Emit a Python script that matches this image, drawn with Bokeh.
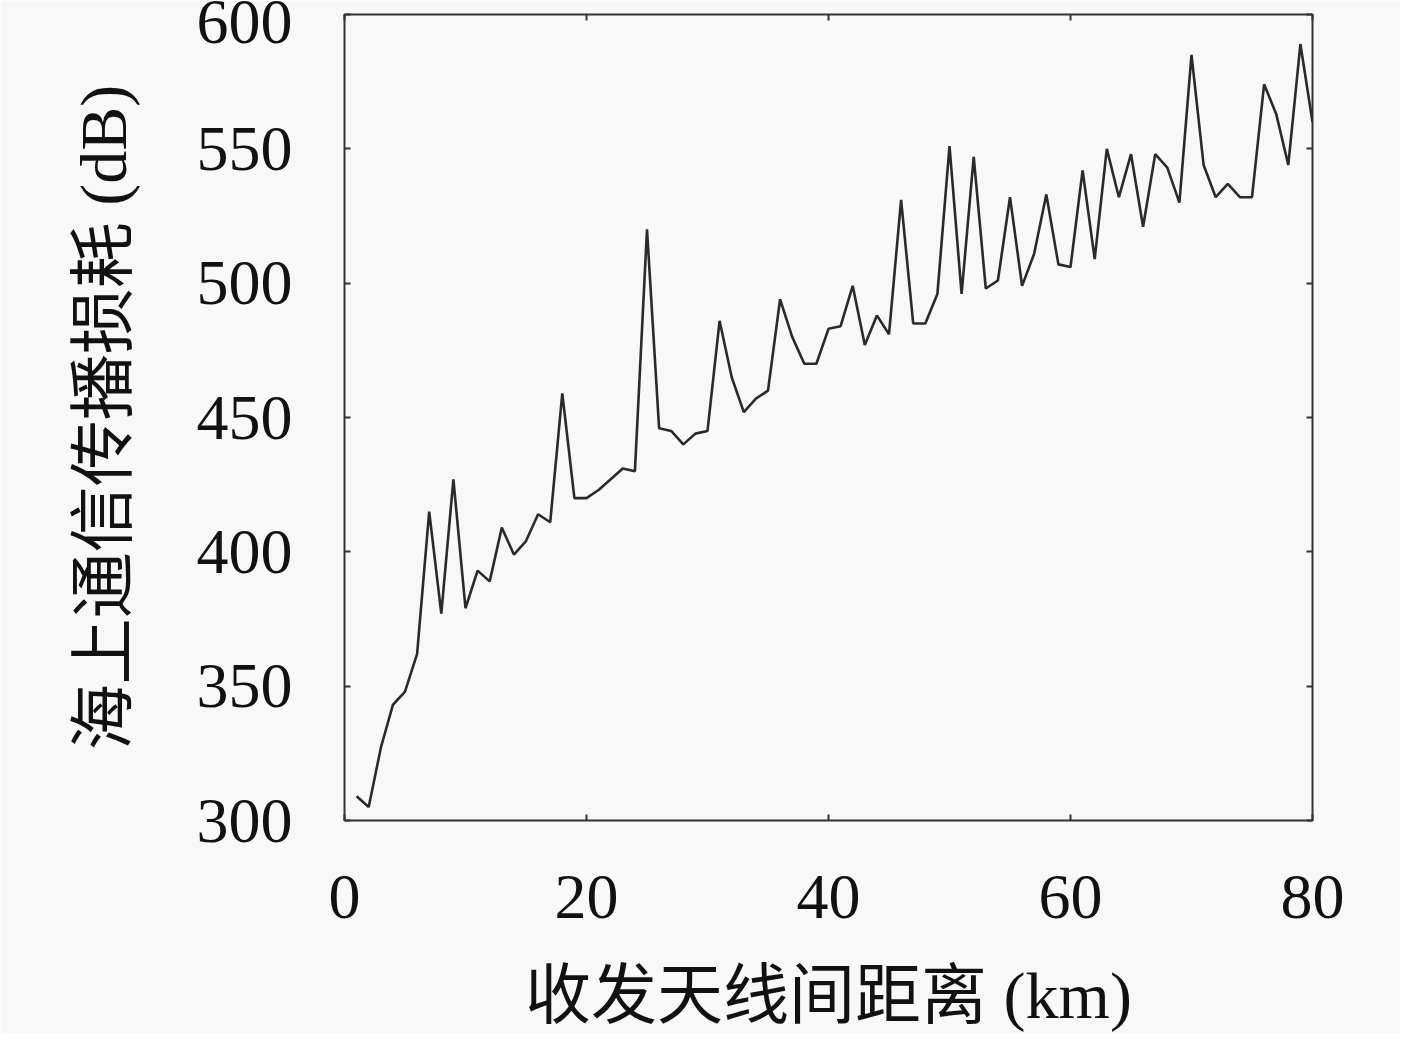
from bokeh.plotting import figure
from bokeh.models import LinearAxis, Range1d, FixedTicker
from bokeh.embed import file_html
from bokeh.resources import INLINE

distance_km = list(range(1, 81))
loss_db = [309, 305, 327, 343, 348, 362, 415, 377, 427, 379,
           393, 389, 409, 399, 404, 414, 411, 459, 420, 420,
           423, 427, 431, 430, 520, 446, 445, 440, 444, 445,
           486, 465, 452, 457, 460, 494, 480, 470, 470, 483,
           484, 499, 477, 488, 481, 531, 485, 485, 496, 551,
           496, 547, 498, 501, 532, 499, 511, 533, 507, 506,
           542, 509, 550, 532, 548, 521, 548, 543, 530, 585,
           544, 532, 537, 532, 532, 574, 563, 544, 589, 560]
x_ticks = [0, 20, 40, 60, 80]
y_ticks = [300, 350, 400, 450, 500, 550, 600]
x_label = "收发天线间距离 (km)"
y_label = "海上通信传播损耗 (dB)"

BG = "#f8f8f8"
TXT_FONT = "'Liberation Serif', 'Noto Sans CJK SC'"
LBL_FONT = "'Liberation Serif', 'Noto Sans CJK SC'"

p = figure(width=1400, height=1034, output_backend="svg", toolbar_location=None,
           x_range=Range1d(0, 80), y_range=Range1d(300, 600),
           min_border_left=344, min_border_right=88, min_border_top=14,
           min_border_bottom=214)
p.background_fill_color = BG
p.border_fill_color = BG
p.outline_line_color = "#333333"
p.outline_line_width = 2
p.grid.visible = False

p.line(distance_km, loss_db, line_color="#2a2a2a", line_width=2.6)

for ax, ticks in ((p.xaxis[0], x_ticks), (p.yaxis[0], y_ticks)):
    ax.ticker = FixedTicker(ticks=ticks)
    ax.axis_line_color = None
    ax.major_tick_in = 6
    ax.major_tick_out = 0
    ax.major_tick_line_color = "#333333"
    ax.major_tick_line_width = 2
    ax.minor_tick_line_color = None
    ax.major_label_text_font = TXT_FONT
    ax.major_label_text_font_size = "64px"
    ax.major_label_text_color = "#111111"
    ax.axis_label_text_font = LBL_FONT
    ax.axis_label_text_font_size = "66px"
    ax.axis_label_text_font_style = "normal"
    ax.axis_label_text_color = "#111111"

p.xaxis[0].axis_label = x_label
p.xaxis[0].major_label_standoff = 55
p.xaxis[0].axis_label_standoff = 38
p.yaxis[0].axis_label = y_label
p.yaxis[0].major_label_standoff = 52
p.yaxis[0].axis_label_standoff = 54

for loc, ticks in (("right", y_ticks), ("above", x_ticks)):
    ax = LinearAxis(ticker=FixedTicker(ticks=ticks))
    ax.axis_line_color = None
    ax.major_tick_in = 6
    ax.major_tick_out = 0
    ax.major_tick_line_color = "#333333"
    ax.major_tick_line_width = 2
    ax.minor_tick_line_color = None
    ax.major_label_text_color = None
    ax.major_label_text_font_size = "1px"
    ax.major_label_standoff = 0
    p.add_layout(ax, loc)

open("out.html", "w").write(file_html(p, INLINE))
